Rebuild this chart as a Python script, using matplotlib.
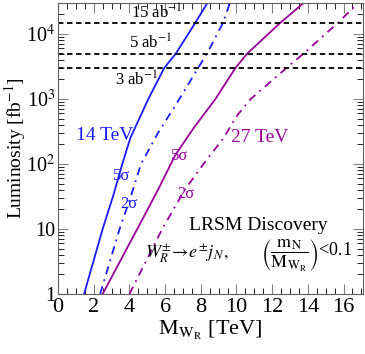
import matplotlib
matplotlib.use("Agg")
import matplotlib.pyplot as plt
from matplotlib.ticker import MultipleLocator, LogLocator, NullFormatter

plt.rcParams["font.family"] = ["Liberation Serif", "DejaVu Serif"]
plt.rcParams["mathtext.fontset"] = "stix"

# luminosity (fb^-1) vs reach in M_WR (TeV)
lumi_14_5s = [1, 10, 33, 100, 250, 1000, 3000, 5000, 15000, 30000]
m14_5s = [1.46, 2.5, 3.1, 3.6, 4.05, 5.06, 5.95, 6.6, 7.7, 8.37]
lumi_14_2s = [1, 10, 30, 100, 300, 1000, 3000, 5000, 15000, 30000]
m14_2s = [2.36, 3.45, 4.05, 4.65, 5.6, 6.8, 7.85, 8.35, 9.25, 9.63]
lumi_27_5s = [1, 10, 40, 137, 358, 1000, 3000, 5000, 15000, 30000]
m27_5s = [2.5, 4.44, 5.6, 6.57, 7.6, 8.82, 9.94, 10.6, 12.47, 13.76]
lumi_27_2s = [1, 10, 40, 100, 250, 570, 1000, 3000, 5000, 15000, 28000]
m27_2s = [4.0, 5.84, 7.1, 8.15, 9.27, 10.06, 10.8, 12.8, 13.76, 15.7, 16.7]

lumi_lines = [15000, 5000, 3000]

blue = "#1a1aff"
purple = "#990099"

fig = plt.figure(figsize=(3.65, 3.54), dpi=100)
ax = fig.add_axes([0.159, 0.1695, 0.836, 0.822])

ax.plot(m14_5s, lumi_14_5s, color=blue, lw=1.3)
ax.plot(m14_2s, lumi_14_2s, color=blue, lw=1.3, dashes=[4.5, 3, 1, 3])
ax.plot(m27_5s, lumi_27_5s, color=purple, lw=1.3)
ax.plot(m27_2s, lumi_27_2s, color=purple, lw=1.3, dashes=[4.5, 3, 1, 3])

for L in lumi_lines:
    ax.axhline(L, color="black", lw=1.3, ls=(0, (3, 2)))

ax.set_yscale("log")
ax.set_xlim(0, 17.1)
ax.set_ylim(1, 3e4)

ax.text(6.97, 1.5e4, r"15 ab$^{-1}$", fontsize=12, ha="right", va="bottom")
ax.text(6.4, 5.2e3, r"5 ab$^{-1}$", fontsize=12, ha="right", va="bottom")
ax.text(5.6, 2.7e3, r"3 ab$^{-1}$", fontsize=12, ha="right", va="top")
ax.text(1.0, 234, "14 TeV", color=blue, fontsize=14)
ax.text(9.72, 218, "27 TeV", color=purple, fontsize=14)
ax.text(3.09, 57, "5σ", color=blue, fontsize=12)
ax.text(3.48, 21, "2σ", color=blue, fontsize=12)
ax.text(6.3, 115, "5σ", color=purple, fontsize=12)
ax.text(6.7, 30, "2σ", color=purple, fontsize=12)
ax.text(11.2, 9.7, "LRSM Discovery", fontsize=14, ha="center")
ax.text(4.9, 3.6, r"$W_R^{\pm}\!\rightarrow\! e^{\pm} j_{\,N},$", fontsize=13)
ax.text(11.4, 3.9, r"$\left(\dfrac{\mathrm{m_N}}{\mathrm{M_{W_R}}}\right)$<0.1",
        fontsize=13, va="center")

ax.set_xlabel(r"M$_{\mathrm{W_R}}$ [TeV]", fontsize=16, labelpad=1)
ax.set_ylabel(r"Luminosity [fb$^{-1}$]", fontsize=14)
ax.yaxis.set_label_coords(-0.1, 0.5)

ax.xaxis.set_major_locator(MultipleLocator(2))
ax.xaxis.set_minor_locator(MultipleLocator(0.5))
ax.yaxis.set_minor_locator(LogLocator(base=10, subs=range(2, 10), numticks=10))
ax.yaxis.set_minor_formatter(NullFormatter())
ax.set_yticks([1, 10, 100, 1000, 10000])
ax.set_yticklabels(["1", "10", r"10$^2$", r"10$^3$", r"10$^4$"])
ax.tick_params(which="both", direction="in", top=True, right=True, labelsize=16, pad=3)
ax.tick_params(axis="y", labelsize=14.5, pad=2)
ax.tick_params(which="major", length=7, color="#808080")
ax.tick_params(which="minor", length=4)
for s in ax.spines.values():
    s.set_color("#606060")

fig.savefig("out.png", dpi=100)
